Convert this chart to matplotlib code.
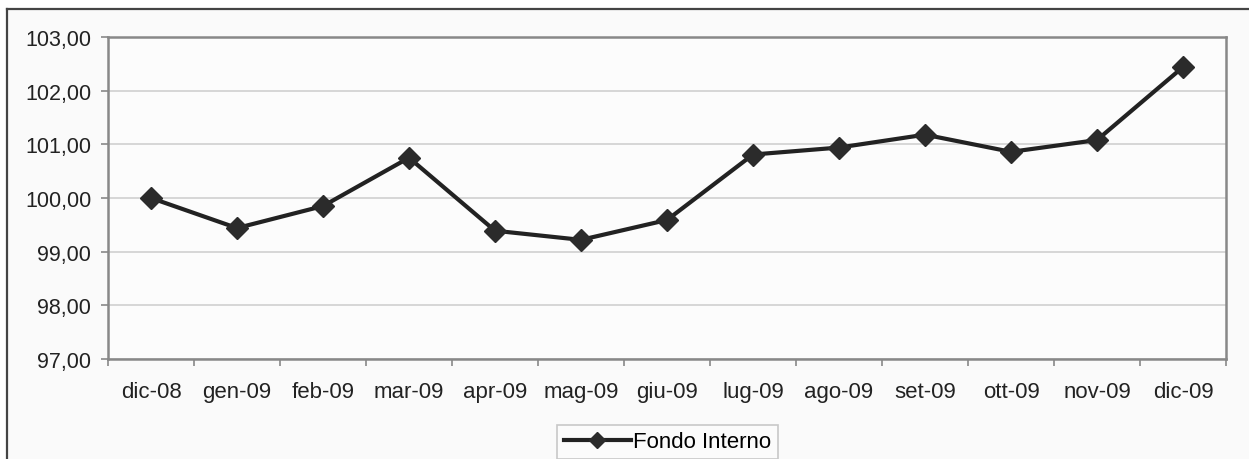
import matplotlib
matplotlib.use("Agg")
import matplotlib.pyplot as plt
from matplotlib.lines import Line2D
from matplotlib.patches import Rectangle

months = ["dic-08", "gen-09", "feb-09", "mar-09", "apr-09", "mag-09", "giu-09",
          "lug-09", "ago-09", "set-09", "ott-09", "nov-09", "dic-09"]
fondo_interno = [100.00, 99.44, 99.85, 100.75, 99.39, 99.22, 99.59,
                 100.81, 100.94, 101.18, 100.86, 101.08, 102.44]
y_ticks = [97, 98, 99, 100, 101, 102, 103]
series_label = "Fondo Interno"

plt.rcParams["font.family"] = ["Liberation Sans", "DejaVu Sans"]

W, H = 1249, 460
fig = plt.figure(figsize=(W / 100, H / 100), dpi=100, facecolor="white")

# chart area background and outer border (left and top edges)
fig.patches.append(Rectangle((7 / W, 0), 1 - 7 / W, 1 - 10 / H, transform=fig.transFigure,
                             facecolor="#fafafa", edgecolor="none", zorder=-10))
fig.add_artist(Line2D([7 / W, 7 / W], [0, 1 - 10 / H], transform=fig.transFigure,
                      color="#444444", lw=1.6))
fig.add_artist(Line2D([7 / W, 1], [1 - 10 / H, 1 - 10 / H], transform=fig.transFigure,
                      color="#444444", lw=1.6))

left, right, top, bottom = 108, 1226, 38, 360
ax = fig.add_axes([left / W, 1 - bottom / H, (right - left) / W, (bottom - top) / H])
ax.set_facecolor("#fcfcfc")

x = list(range(len(months)))
ax.plot(x, fondo_interno, color="#222222", lw=3.0, marker="D", markersize=11,
        markerfacecolor="#2b2b2b", markeredgecolor="#2b2b2b", zorder=3,
        label=series_label)

ax.set_xlim(-0.5, len(months) - 0.5)
ax.set_ylim(97, 103)
ax.set_yticks(y_ticks)
ax.set_yticklabels([f"{v:.2f}".replace(".", ",") for v in y_ticks])
ax.set_xticks(x)
ax.set_xticklabels(months)
ax.set_xticks([i - 0.5 for i in range(len(months) + 1)], minor=True)
ax.tick_params(axis="x", which="major", length=0, pad=16, labelsize=16, colors="#222222")
ax.tick_params(axis="x", which="minor", length=5, width=1.2, color="#888888")
ax.tick_params(axis="y", length=5, width=1.2, color="#888888", pad=7,
               labelsize=15.5, labelcolor="#222222")

ax.grid(axis="y", color="#d0d0d0", lw=1.2)
ax.set_axisbelow(True)
for s in ax.spines.values():
    s.set_color("#888888")
    s.set_linewidth(1.8)

leg = fig.legend(loc="center", bbox_to_anchor=((562 + 773) / 2 / W, 1 - 443 / H),
                 fontsize=16, frameon=True, fancybox=False, handlelength=3.0,
                 handletextpad=0.1, borderpad=0.3, borderaxespad=0, markerscale=0.7)
leg.get_frame().set_edgecolor("#bbbbbb")
leg.get_frame().set_linewidth(1.2)
leg.get_frame().set_facecolor("#fcfcfc")

fig.savefig("out.png", dpi=100, facecolor="white")
